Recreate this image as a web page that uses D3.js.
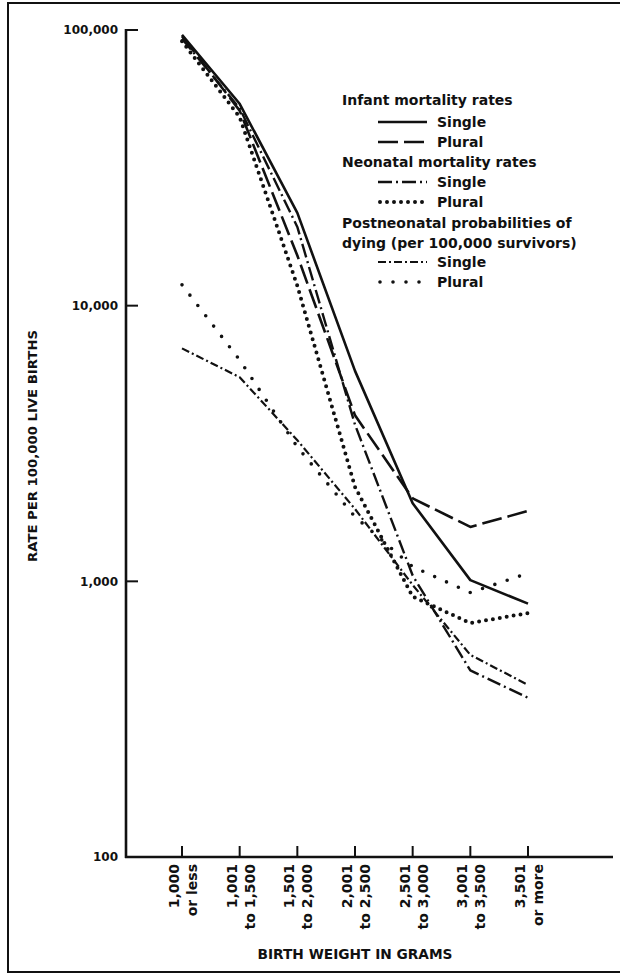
<!DOCTYPE html>
<html>
<head>
<meta charset="utf-8">
<script src="https://cdn.jsdelivr.net/npm/d3@7/dist/d3.min.js"></script>
<style>
  body { margin: 0; background: #fff; }
  text { font-family: 'DejaVu Sans', 'Liberation Sans', sans-serif; fill: #111; }
</style>
</head>
<body>
<div id="chart"></div>
<script>
// birth weight groups (grams)
const categories = ['1,000 or less', '1,001-1,500', '1,501-2,000', '2,001-2,500', '2,501-3,000', '3,001-3,500', '3,501 or more'];
const catLabels = [
  ['1,000', 'or less'], ['1,001', 'to 1,500'], ['1,501', 'to 2,000'], ['2,001', 'to 2,500'],
  ['2,501', 'to 3,000'], ['3,001', 'to 3,500'], ['3,501', 'or more']
];

// rates per 100,000 live births
const infantSingle = [96000, 54000, 21700, 5800, 1920, 1010, 830];
const infantPlural = [95000, 51000, 15200, 4000, 2000, 1575, 1800];
const neonatalSingle = [93000, 52000, 19300, 3700, 1050, 475, 378];
const neonatalPlural = [91000, 48300, 11800, 2200, 880, 706, 767];
const postSingle = [7000, 5500, 3250, 1830, 970, 541, 421];
const postPlural = [11900, 6350, 3070, 1715, 1130, 910, 1070];

const yTicks = [100, 1000, 10000, 100000];

const series = [
  { values: infantSingle, dash: null, w: 2.6, cap: 'butt' },
  { values: infantPlural, dash: '20,6', w: 2.6, cap: 'butt' },
  { values: neonatalSingle, dash: '14,4,2,4', w: 2.4, cap: 'butt' },
  { values: neonatalPlural, dash: '0,7', w: 4, cap: 'round' },
  { values: postSingle, dash: '8,3,2,3', w: 2.2, cap: 'butt' },
  { values: postPlural, dash: '0,13', w: 3.6, cap: 'round' }
];

const width = 620, height = 979;
const svg = d3.select('#chart').append('svg')
  .attr('width', width).attr('height', height);

// frame
svg.append('path')
  .attr('d', 'M' + (width + 5) + ',3 L8,3 L8,972 L' + (width + 5) + ',972')
  .attr('fill', 'none').attr('stroke', '#111').attr('stroke-width', 2);

const axisX = 126, axisY = 857;
const x = d3.scalePoint().domain(categories).range([182, 528]);
const y = d3.scaleLog().domain([100, 100000]).range([axisY, 30]);

// y axis
svg.append('line')
  .attr('x1', axisX).attr('x2', axisX)
  .attr('y1', y(100000) - 1).attr('y2', axisY + 1)
  .attr('stroke', '#111').attr('stroke-width', 2.6);

const yt = svg.append('g').selectAll('g').data(yTicks).join('g')
  .attr('transform', d => `translate(0,${y(d)})`);
yt.filter(d => d > 100).append('line')
  .attr('x1', axisX).attr('x2', axisX + 12)
  .attr('stroke', '#111').attr('stroke-width', 2);
yt.append('text')
  .attr('x', axisX - 8).attr('dy', '0.35em')
  .attr('text-anchor', 'end')
  .attr('font-size', 12).attr('font-weight', 'bold')
  .text(d => d3.format(',')(d));

svg.append('text')
  .attr('transform', 'translate(37,446) rotate(-90)')
  .attr('text-anchor', 'middle')
  .attr('font-size', 12).attr('font-weight', 'bold')
  .attr('textLength', 232).attr('lengthAdjust', 'spacingAndGlyphs')
  .text('RATE PER 100,000 LIVE BIRTHS');

// x axis
svg.append('line')
  .attr('x1', axisX - 1).attr('x2', 613)
  .attr('y1', axisY).attr('y2', axisY)
  .attr('stroke', '#111').attr('stroke-width', 2.6);

const xt = svg.append('g').selectAll('g').data(categories).join('g')
  .attr('transform', d => `translate(${x(d)},0)`);
xt.append('line')
  .attr('y1', axisY).attr('y2', axisY - 11)
  .attr('stroke', '#111').attr('stroke-width', 2);
xt.each(function (d, i) {
  const g = d3.select(this);
  catLabels[i].forEach((s, j) => {
    g.append('text')
      .attr('transform', `translate(${j === 0 ? -3 : 15},${axisY + 7}) rotate(-90)`)
      .attr('text-anchor', 'end')
      .attr('font-size', 14).attr('font-weight', 'bold')
      .text(s);
  });
});

svg.append('text')
  .attr('x', 355).attr('y', 959)
  .attr('text-anchor', 'middle')
  .attr('font-size', 14).attr('font-weight', 'bold')
  .attr('textLength', 195).attr('lengthAdjust', 'spacingAndGlyphs')
  .text('BIRTH WEIGHT IN GRAMS');

// lines
const line = d3.line()
  .x((d, i) => x(categories[i]))
  .y(d => y(d));

svg.append('g').selectAll('path').data(series).join('path')
  .attr('d', d => line(d.values))
  .attr('fill', 'none')
  .attr('stroke', '#111')
  .attr('stroke-width', d => d.w)
  .attr('stroke-dasharray', d => d.dash)
  .attr('stroke-linecap', d => d.cap)
  .attr('stroke-linejoin', 'round');

// legend
const legend = svg.append('g');
const heads = [
  { t: ['Infant mortality rates'], y: 105 },
  { t: ['Neonatal mortality rates'], y: 167 },
  { t: ['Postneonatal probabilities of', 'dying (per 100,000 survivors)'], y: 228 }
];
heads.forEach(h => {
  h.t.forEach((s, j) => {
    legend.append('text')
      .attr('x', 342).attr('y', h.y + j * 20)
      .attr('font-size', 14).attr('font-weight', 'bold')
      .text(s);
  });
});

const rows = [
  { s: series[0], label: 'Single', y: 127 },
  { s: series[1], label: 'Plural', y: 147 },
  { s: series[2], label: 'Single', y: 187 },
  { s: series[3], label: 'Plural', y: 207 },
  { s: series[4], label: 'Single', y: 267 },
  { s: series[5], label: 'Plural', y: 287 }
];
rows.forEach(r => {
  legend.append('line')
    .attr('x1', r.s.cap === 'round' ? 380 : 378).attr('x2', 427)
    .attr('y1', r.y - 5).attr('y2', r.y - 5)
    .attr('stroke', '#111')
    .attr('stroke-width', r.s.w)
    .attr('stroke-dasharray', r.s.dash)
    .attr('stroke-linecap', r.s.cap);
  legend.append('text')
    .attr('x', 437).attr('y', r.y)
    .attr('font-size', 14).attr('font-weight', 'bold')
    .text(r.label);
});
</script>
</body>
</html>
